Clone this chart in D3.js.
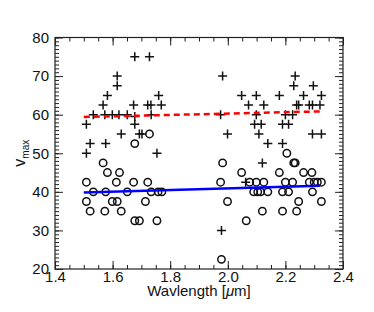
<!DOCTYPE html>
<html>
<head>
<meta charset="utf-8">
<script src="https://cdn.jsdelivr.net/npm/d3@7/dist/d3.min.js"></script>
<style>
  body { margin: 0; background: #fff; }
  text { font-family: "Liberation Sans", Arial, sans-serif; fill: #111; }
</style>
</head>
<body>
<svg class="chart"></svg>
<script>
// wavelength [um], v_max
var crosses = [
  [1.677, 75], [1.728, 75],
  [1.616, 70], [1.616, 67.5],
  [1.582, 65], [1.76, 65],
  [1.567, 62.5], [1.673, 62.5], [1.722, 62.5], [1.733, 62.5], [1.769, 62.5],
  [1.533, 60], [1.573, 60], [1.599, 60], [1.622, 60], [1.651, 60], [1.677, 59.5], [1.734, 60],
  [1.509, 57.5], [1.677, 57.5],
  [1.63, 55], [1.693, 55], [1.702, 55],
  [1.522, 52.5], [1.576, 52.5],
  [1.509, 50], [1.754, 50],
  [1.982, 70], [2.234, 70],
  [2.229, 67.5], [2.297, 67.5],
  [2.048, 65], [2.099, 65], [2.179, 65], [2.263, 65], [2.325, 65],
  [2.072, 62.5], [2.125, 62.5], [2.239, 62.5], [2.246, 62.5], [2.283, 62.5], [2.294, 62.5], [2.32, 62.5],
  [1.975, 60], [2.099, 60], [2.2, 60], [2.225, 60],
  [2.093, 57.5], [2.116, 57.5], [2.19, 57.5], [2.211, 57.5],
  [1.999, 55], [2.108, 55], [2.294, 55], [2.325, 55],
  [2.139, 52.5], [2.19, 52.5],
  [2.12, 47.5], [2.062, 42.5], [1.978, 30]
];

var circles = [
  [1.728, 55], [1.677, 52.5],
  [1.567, 47.5], [1.582, 45], [1.624, 45],
  [1.509, 42.5], [1.613, 42.5], [1.673, 42.5], [1.722, 42.5],
  [1.533, 40], [1.576, 40], [1.651, 40], [1.734, 40], [1.758, 40], [1.771, 40],
  [1.509, 37.5], [1.599, 37.5], [1.616, 37.5], [1.714, 37.5],
  [1.522, 35], [1.573, 35], [1.63, 35],
  [1.677, 32.5], [1.693, 32.5], [1.754, 32.5],
  [2.205, 50],
  [1.982, 47.5], [2.229, 47.5], [2.234, 47.5],
  [2.048, 45], [2.179, 45], [2.263, 45], [2.292, 45],
  [1.975, 42.5], [2.076, 42.5], [2.099, 42.5], [2.125, 42.5], [2.2, 42.5], [2.225, 42.5],
  [2.283, 42.5], [2.3, 42.5], [2.311, 42.5], [2.325, 42.5],
  [2.09, 40], [2.104, 40], [2.114, 40], [2.139, 40], [2.19, 40], [2.211, 40], [2.294, 40],
  [1.999, 37.5], [2.246, 37.5], [2.325, 37.5],
  [2.12, 35], [2.19, 35], [2.239, 35],
  [2.064, 32.5],
  [1.978, 22.5]
];

// fitted lines (end points)
var crossFit = [[1.5, 59.4], [2.32, 60.85]];
var circleFit = [[1.5, 39.8], [2.32, 41.6]];

var xTicks = [1.4, 1.6, 1.8, 2.0, 2.2, 2.4];
var yTicks = [20, 30, 40, 50, 60, 70, 80];

var margin = {top: 37.5, right: 31, bottom: 43, left: 55},
    width = 374 - margin.left - margin.right,
    height = 312 - margin.top - margin.bottom;

var svg = d3.select(".chart")
    .attr("width", 374)
    .attr("height", 312)
    .append("g")
    .attr("transform", "translate(" + margin.left + "," + margin.top + ")");

var x = d3.scaleLinear().domain([1.4, 2.4]).range([0, width]);
var y = d3.scaleLinear().domain([20, 80]).range([height, 0]);

var xMinor = d3.range(1.4, 2.4001, 0.05);
var yMinor = d3.range(20, 80.001, 1);

function styleAxis(g) {
  g.select(".domain").remove();
  g.selectAll("line").attr("stroke", "#222").attr("stroke-width", 1);
  g.selectAll("text").style("font-size", "15px");
}

// minor ticks (inside, all four sides)
svg.append("g").call(d3.axisBottom(x).tickValues(xMinor).tickSize(-4).tickFormat(""))
  .attr("transform", "translate(0," + height + ")").call(styleAxis);
svg.append("g").call(d3.axisTop(x).tickValues(xMinor).tickSize(-4).tickFormat(""))
  .call(styleAxis);
svg.append("g").call(d3.axisLeft(y).tickValues(yMinor).tickSize(-4).tickFormat(""))
  .call(styleAxis);
svg.append("g").call(d3.axisRight(y).tickValues(yMinor).tickSize(-4).tickFormat(""))
  .attr("transform", "translate(" + width + ",0)").call(styleAxis);

// major ticks
svg.append("g").call(d3.axisBottom(x).tickValues(xTicks).tickSize(-8).tickPadding(2).tickFormat(d3.format(".1f")))
  .attr("transform", "translate(0," + height + ")").call(styleAxis);
svg.append("g").call(d3.axisTop(x).tickValues(xTicks).tickSize(-8).tickFormat(""))
  .call(styleAxis);
svg.append("g").call(d3.axisLeft(y).tickValues(yTicks).tickSize(-8).tickPadding(6).tickFormat(d3.format("d")))
  .call(styleAxis);
svg.append("g").call(d3.axisRight(y).tickValues(yTicks).tickSize(-8).tickFormat(""))
  .attr("transform", "translate(" + width + ",0)").call(styleAxis);

svg.append("rect")
  .attr("width", width).attr("height", height)
  .attr("fill", "none").attr("stroke", "#222").attr("stroke-width", 1.2);

var plot = svg.append("g");

plot.selectAll(".cross").data(crosses).enter()
  .append("path")
  .attr("class", "cross")
  .attr("d", function(d) {
    var cx = x(d[0]), cy = y(d[1]), s = 4.5;
    return "M" + (cx - s) + "," + cy + "H" + (cx + s) + "M" + cx + "," + (cy - s) + "V" + (cy + s);
  })
  .attr("stroke", "#111").attr("stroke-width", 1.5).attr("fill", "none");

plot.selectAll(".circ").data(circles).enter()
  .append("circle")
  .attr("class", "circ")
  .attr("cx", function(d) { return x(d[0]); })
  .attr("cy", function(d) { return y(d[1]); })
  .attr("r", 3.7)
  .attr("stroke", "#111").attr("stroke-width", 1.5).attr("fill", "none");

var line = d3.line().x(function(d) { return x(d[0]); }).y(function(d) { return y(d[1]); });

plot.append("path").datum(crossFit).attr("d", line)
  .attr("stroke", "#ff0000").attr("stroke-width", 2.5).attr("stroke-dasharray", "6,4").attr("fill", "none");
plot.append("path").datum(circleFit).attr("d", line)
  .attr("stroke", "#0000ff").attr("stroke-width", 2.5).attr("fill", "none");

// axis titles
svg.append("text")
  .attr("x", width / 2).attr("y", height + 27)
  .attr("text-anchor", "middle").style("font-size", "15px")
  .html('Wavlength [<tspan font-style="italic">&#956;</tspan>m]');

var yl = svg.append("text")
  .attr("transform", "translate(-30," + (height / 2) + ") rotate(-90)")
  .attr("text-anchor", "middle").style("font-size", "16px");
yl.append("tspan").text("v");
yl.append("tspan").attr("dy", 4).style("font-size", "10px").text("max");
</script>
</body>
</html>
